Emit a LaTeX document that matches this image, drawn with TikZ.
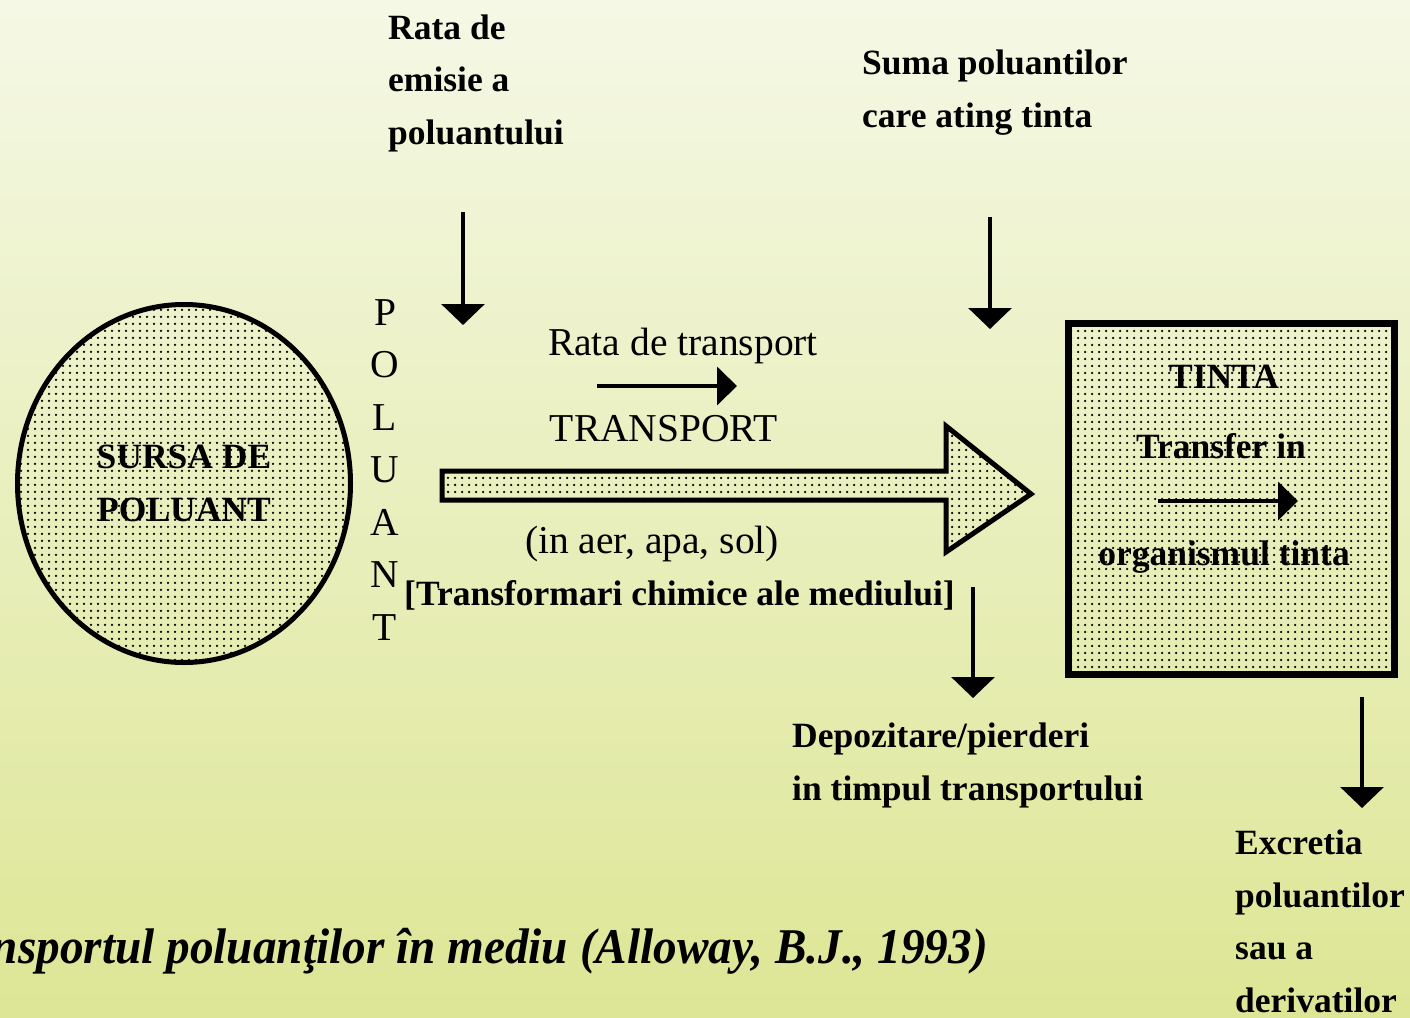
\documentclass[tikz,border=0pt]{standalone}
\usepackage{fontspec}
\setmainfont{Liberation Serif}
\usetikzlibrary{arrows.meta,patterns.meta,positioning,shapes.geometric}

\definecolor{bgtop}{HTML}{F5F8E5}
\definecolor{bgbottom}{HTML}{DDE695}
\newcommand{\boldtxt}{\fontsize{35.5}{52.5}\selectfont\bfseries}
\newcommand{\plaintxt}{\fontsize{39.5}{52.5}\selectfont}

\begin{document}
\begin{tikzpicture}[x=1pt,y=-1pt]
\tikzset{lbl/.style={font=\boldtxt,inner sep=0pt,align=left,anchor=base west}}
\tikzset{plainlbl/.style={font=\plaintxt,inner sep=0pt,anchor=base}}
\tikzset{dotfill/.style={pattern={Dots[distance=7pt,radius=1.25pt]},pattern color=black}}
\tikzset{downarrow/.style={line width=3.5pt,-{Triangle[width=43pt,length=21pt]}}}
\tikzset{sidearrow/.style={line width=4pt,-{Triangle[width=38pt,length=20pt]}}}

% background
\useasboundingbox (0,0) rectangle (1410,1017);
\clip (0,0) rectangle (1410,1017);
\shade[top color=bgtop,bottom color=bgbottom] (0,0) rectangle (1410,1017);

% source and target
\node (sursa) [draw,ellipse,line width=5pt,dotfill,minimum width=333pt,minimum height=358pt,
  font=\boldtxt,align=center,inner sep=0pt] at (184,483.5) {SURSA DE\\POLUANT};
\node (tinta) [draw,rectangle,line width=7pt,dotfill,minimum width=326pt,minimum height=351pt]
  at (1231.5,499) {};
\node (tintatitle) [lbl,anchor=base] at (1224,388) {TINTA};
\node (transfer) [lbl,anchor=base] at (1221,458) {Transfer in};
\node (organism) [lbl,anchor=base] at (1224,565) {organismul tinta};
\coordinate (trstart) at (1158,501);
\coordinate (trend) at (1298,501);
\draw[sidearrow] (trstart) -- (trend);

% vertical POLUANT
\foreach \ch [count=\i from 0] in {P,O,L,U,A,N,T}
  \node (pol\i) [plainlbl] at (385,325+52.5*\i) {\ch};

% transport arrow
\draw[line width=5pt,dotfill,line join=miter] (442,471) -- (946,471) -- (946,426)
  -- (1031,494) -- (946,552) -- (946,500) -- (442,500) -- cycle;
\node (ratatr) [plainlbl] at (683,355) {Rata de transport};
\coordinate (ratastart) at (597,386);
\coordinate (rataend) at (737,386);
\draw[sidearrow] (ratastart) -- (rataend);
\node (transp) [plainlbl] at (664,441) {TRANSPORT};
\node (medii) [plainlbl] at (652,553) {(in aer, apa, sol)};
\node (chimic) [lbl] at (404,605) {[Transformari chimice ale mediului]};

% inputs from above (base = last line)
\node (emisie) [lbl] at (388,144) {Rata de\\emisie a\\poluantului};
\coordinate (emtop) at (463,212);
\coordinate (emend) at (463,325);
\draw[downarrow] (emtop) -- (emend);
\node (suma) [lbl] at (862,127) {Suma poluantilor\\care ating tinta};
\coordinate (sumtop) at (990,217);
\coordinate (sumend) at (990,329);
\draw[downarrow] (sumtop) -- (sumend);

% losses
\coordinate (deptop) at (973,587);
\coordinate (depend) at (973,698);
\draw[downarrow] (deptop) -- (depend);
\node (depoz) [lbl] at (792,800) {Depozitare/pierderi\\in timpul transportului};
\coordinate (extop) at (1362,697);
\coordinate (exend) at (1362,808);
\draw[downarrow] (extop) -- (exend);
\node (excretie) [lbl] at (1235,1012) {Excretia\\poluantilor\\sau a\\derivatilor};

% caption
\node (caption) [font=\fontsize{50}{60}\selectfont\bfseries\itshape,inner sep=0pt,
  anchor=base east,xscale=0.945] at (988,963)
  {Transportul poluanţilor în mediu (Alloway, B.J., 1993)};
\end{tikzpicture}
\end{document}
